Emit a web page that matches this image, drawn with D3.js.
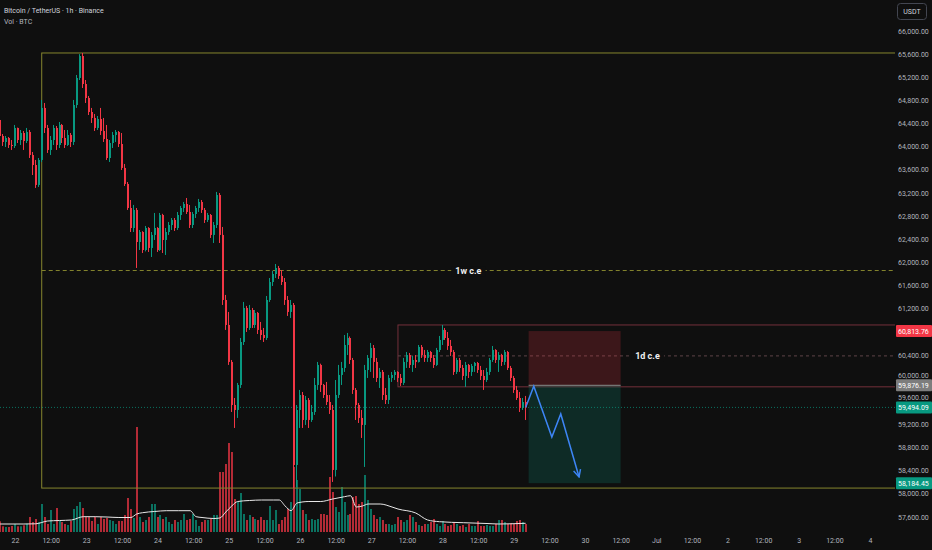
<!DOCTYPE html>
<html>
<head>
<meta charset="utf-8">
<script src="https://cdn.jsdelivr.net/npm/d3@7"></script>
<style>
  html, body { margin: 0; padding: 0; background: #0f0f0f; }
  svg { display: block; font-family: Roboto, "Noto Sans", sans-serif; }
</style>
</head>
<body>
<svg id="chart" width="932" height="550"></svg>
<script>
// BTC/USDT 1h candles, first candle 21 Jun 19:00
const firstCandle = new Date(2024, 5, 21, 19);

const opens = [
  64462, 64185, 64082, 64151, 64030, 64013, 64324, 64116, 64237, 64099,
  64255, 63857, 63684, 63339, 63771, 64670, 64324, 63944, 64116, 64324,
  64030, 64376, 64151, 64030, 64203, 64082, 64721, 65188, 65568, 65084,
  64842, 64600, 64497, 64324, 64479, 64272, 64133, 63805, 64064, 64203,
  64255, 64047, 63633, 63356, 62941, 62595, 62907, 62353, 62526, 62215,
  62595, 62250, 62475, 62595, 62215, 62820, 62388, 62526, 62647, 62734,
  62595, 62820, 62941, 63010, 62872, 62647, 62837, 62941, 63045, 62907,
  62734, 62820, 62475, 62647, 63166, 62475, 61351, 60919, 60280, 59536,
  59450, 59882, 60625, 61213, 60867, 61178, 60919, 61127, 60833, 60746,
  60694, 61351, 61662, 61800, 61904, 61766, 61662, 61351, 61144, 61265,
  58499, 59450, 59709, 59277, 59623, 59277, 59415, 59882, 60228, 59882,
  59709, 59588, 59450, 58413, 59709, 60055, 60176, 60573, 60694, 60314,
  59796, 59536, 59312, 59191, 60141, 60349, 60522, 60280, 60003, 60107,
  59709, 59623, 60003, 60055, 60107, 60003, 59917, 60280, 60400, 60228,
  60314, 60280, 60539, 60400, 60349, 60452, 60349, 60228, 60487, 60660,
  60833, 60694, 60556, 60452, 60107, 60314, 60176, 60038, 60228, 60107,
  60211, 60262, 60141, 60038, 59968, 60107, 60314, 60487, 60314, 60400,
  60280, 60452, 60176, 60003, 59796, 59657, 59485, 59588
];
const highs = [
  64514, 64220, 64185, 64168, 64116, 64376, 64330, 64289, 64272, 64324,
  64289, 63909, 63771, 63805, 64808, 64756, 64376, 64185, 64376, 64358,
  64427, 64393, 64289, 64289, 64237, 64808, 65240, 65600, 65620, 65153,
  64877, 64670, 64566, 64531, 64670, 64497, 64376, 64116, 64255, 64289,
  64272, 64237, 63702, 63390, 63079, 62994, 62941, 62561, 62540, 62630,
  62610, 62526, 62855, 62610, 62855, 62840, 62595, 62699, 62768, 62768,
  62872, 62976, 63045, 63114, 62993, 62872, 62976, 63097, 63079, 62941,
  62855, 62837, 62699, 63218, 63200, 62613, 61438, 61144, 60314, 59657,
  59917, 60694, 61317, 61248, 61265, 61213, 61178, 61144, 60971, 60867,
  61420, 61731, 61852, 61973, 61939, 61869, 61731, 61420, 61351, 61299,
  59536, 59796, 59761, 59692, 59657, 59536, 60003, 60280, 60250, 59900,
  59934, 59709, 59536, 59968, 60228, 60280, 60746, 60781, 60720, 60349,
  59830, 59571, 59450, 60228, 60400, 60608, 60573, 60349, 60176, 60141,
  59830, 60055, 60107, 60141, 60120, 60072, 60349, 60452, 60435, 60383,
  60400, 60573, 60573, 60487, 60487, 60470, 60400, 60522, 60729, 60919,
  60867, 60798, 60660, 60487, 60349, 60349, 60228, 60280, 60245, 60245,
  60280, 60280, 60211, 60141, 60176, 60349, 60556, 60500, 60452, 60420,
  60487, 60470, 60211, 60038, 59865, 59761, 59657, 59692
];
const lows = [
  64151, 64013, 63995, 63978, 63944, 63978, 64064, 64030, 63944, 64064,
  63805, 63511, 63287, 63304, 63736, 64237, 63892, 63857, 64030, 63944,
  63978, 64064, 63978, 64013, 63995, 64030, 64670, 65153, 65015, 64756,
  64548, 64410, 64272, 64289, 64203, 64082, 63771, 63736, 63978, 64082,
  63995, 63598, 63321, 62907, 62526, 62526, 61904, 62215, 62163, 62190,
  62181, 62094, 62388, 62181, 62198, 62163, 62129, 62475, 62561, 62544,
  62561, 62734, 62872, 62837, 62595, 62595, 62768, 62872, 62855, 62682,
  62699, 62423, 62336, 62595, 62336, 61265, 60833, 60228, 59415, 59139,
  59312, 59830, 60573, 60798, 60833, 60867, 60867, 60763, 60660, 60625,
  60660, 61317, 61593, 61731, 61714, 61610, 61265, 61075, 61040, 58100,
  58119, 59139, 59139, 59191, 59139, 59243, 59364, 59796, 59761, 59657,
  59536, 59381, 58206, 58300, 59657, 59882, 60107, 60400, 60245, 59727,
  59277, 59225, 58966, 58465, 60003, 60107, 60003, 59934, 59830, 59623,
  59553, 59553, 59934, 59968, 59934, 59865, 59882, 60176, 60176, 60107,
  60176, 60270, 60349, 60280, 60280, 60280, 60176, 60211, 60452, 60573,
  60660, 60487, 60383, 60055, 60072, 60107, 59968, 59848, 60003, 60038,
  60107, 60090, 59968, 59796, 59934, 60055, 60280, 60262, 60107, 60211,
  60228, 60141, 59951, 59744, 59623, 59415, 59450, 59277
];
const closes = [
  64185, 64082, 64151, 64030, 64013, 64324, 64116, 64237, 64099, 64255,
  63857, 63684, 63339, 63771, 64670, 64324, 63944, 64116, 64324, 64030,
  64376, 64151, 64030, 64203, 64082, 64721, 65188, 65568, 65084, 64842,
  64600, 64497, 64324, 64479, 64272, 64133, 63805, 64064, 64203, 64255,
  64047, 63633, 63356, 62941, 62595, 62907, 62353, 62526, 62215, 62595,
  62250, 62475, 62595, 62215, 62820, 62388, 62526, 62647, 62734, 62595,
  62820, 62941, 63010, 62872, 62647, 62837, 62941, 63045, 62907, 62734,
  62820, 62475, 62647, 63166, 62475, 61351, 60919, 60280, 59536, 59450,
  59882, 60625, 61213, 60867, 61178, 60919, 61127, 60833, 60746, 60694,
  61351, 61662, 61800, 61904, 61766, 61662, 61351, 61144, 61265, 58499,
  59450, 59709, 59277, 59623, 59277, 59415, 59882, 60228, 59882, 59709,
  59588, 59450, 58413, 59709, 60055, 60176, 60573, 60694, 60314, 59796,
  59536, 59312, 59191, 60141, 60349, 60522, 60280, 60003, 60107, 59709,
  59623, 60003, 60055, 60107, 60003, 59917, 60280, 60400, 60228, 60314,
  60280, 60539, 60400, 60349, 60452, 60349, 60228, 60487, 60660, 60833,
  60694, 60556, 60452, 60107, 60314, 60176, 60038, 60228, 60107, 60211,
  60262, 60141, 60038, 59968, 60107, 60314, 60487, 60314, 60400, 60280,
  60452, 60176, 60003, 59796, 59657, 59485, 59588, 59494.09
];
// volume in BTC
const volumes = [
  1070, 570, 500, 500, 600, 800, 570, 570, 670, 830,
  1500, 1000, 1300, 1000, 2800, 1500, 800, 2200, 800, 2400,
  1100, 1000, 800, 700, 1100, 2300, 2600, 3000, 2400, 1500,
  1500, 1100, 1500, 800, 1500, 1300, 1400, 1200, 1100, 800,
  1100, 1100, 1700, 3400, 2300, 1400, 10500, 1500, 1000, 1200,
  1500, 2800, 2800, 1500, 1700, 1300, 1500, 1000, 800, 1200,
  1000, 1200, 1800, 1200, 1300, 1800, 1200, 600, 1000, 1200,
  1200, 1300, 1700, 1700, 6000, 6000, 6800, 8900, 8000, 3300,
  3000, 3900, 1800, 1200, 1700, 1500, 1300, 1200, 1500, 1200,
  1200, 2600, 1200, 2200, 800, 1200, 1500, 2300, 3000, 6500,
  5200, 4300, 2200, 1800, 1200, 1300, 1200, 1300, 1800, 1800,
  1700, 5500, 4000, 2500, 2000, 4500, 3000, 1700, 1800, 3500,
  3600, 2800, 3000, 5700, 3200, 2300, 1700, 1300, 1500, 1200,
  800, 800, 700, 800, 1500, 1200, 1000, 1200, 1700, 1500,
  1000, 700, 600, 800, 800, 1000, 1300, 800, 600, 1100,
  800, 600, 700, 1000, 800, 600, 700, 500, 800, 600,
  600, 1100, 600, 600, 700, 600, 600, 800, 1200, 1200,
  1000, 800, 900, 800, 1100, 1200, 1000, 800
];
// volume moving average, read at these candle indexes
const volMaIndex = [0, 4, 8, 12, 16, 20, 24, 28, 32, 36, 40, 44, 46, 48, 52, 56, 60, 64, 66, 68,
  72, 74, 76, 78, 80, 84, 88, 92, 94, 96, 98, 100, 104, 108, 112, 116, 118, 120, 122, 124,
  128, 132, 134, 140, 144, 148, 156, 164, 168, 172, 177];
const volMa = [800, 800, 800, 820, 1100, 1150, 1200, 1530, 1530, 1500, 1450, 1450, 1800, 1930, 2050, 2130, 2130, 2130, 1530, 1450,
  1350, 1400, 2000, 2600, 3050, 3150, 3200, 3200, 3200, 2600, 2130, 2900, 3050, 3050, 3300, 3530, 3630, 2500, 2600, 2800,
  2800, 2500, 2300, 1900, 1200, 1030, 930, 850, 800, 820, 870];

const rangeHigh = 65620, rangeLow = 58100;       // 1w range
const dayRangeHigh = 60919, dayRangeLow = 59850; // 1d range
const dayRangeStart = new Date(2024, 5, 27, 9);
const stopPrice = 60813.76, entryPrice = 59876.19, targetPrice = 58184.45;
const lastPrice = 59494.09;
const positionStart = new Date(2024, 5, 29, 5), positionEnd = new Date(2024, 5, 30, 12);
const pathTimes = [new Date(2024, 5, 29, 4), new Date(2024, 5, 29, 6, 45), new Date(2024, 5, 29, 12, 50),
  new Date(2024, 5, 29, 15, 50), new Date(2024, 5, 29, 22, 0)];
const pathPrices = [59494, 59860, 58983, 59381, 58292];

const width = 932, height = 550, plotRight = 895, plotBottom = 534;
const bg = "#0f0f0f", up = "#089981", down = "#f23645";
const font = "Roboto, 'Noto Sans', sans-serif";

const svg = d3.select("#chart");
svg.append("rect").attr("width", width).attr("height", height).attr("fill", bg);

const x = d3.scaleTime().domain([new Date(2024, 5, 22), new Date(2024, 6, 4)]).range([15, 870]);
const y = d3.scaleLinear().domain([57600, 66000]).range([517, 31]);
const yVol = d3.scaleLinear().domain([0, 10000]).range([532, 432]);

const candles = closes.map((c, i) => ({
  t: d3.timeHour.offset(firstCandle, i), o: opens[i], h: highs[i], l: lows[i], c: c, v: volumes[i]
}));

svg.append("clipPath").attr("id", "plot")
  .append("rect").attr("x", 0).attr("y", 0).attr("width", plotRight).attr("height", plotBottom);
const plot = svg.append("g").attr("clip-path", "url(#plot)");

// volume
plot.append("g").selectAll("rect").data(candles).join("rect")
  .attr("x", d => Math.round(x(d.t)) - 1)
  .attr("width", 2)
  .attr("y", d => yVol(d.v))
  .attr("height", d => yVol(0) - yVol(d.v))
  .attr("fill", d => d.c >= d.o ? up : down)
  .attr("opacity", 0.72);

plot.append("path")
  .datum(volMaIndex.map((k, i) => [d3.timeHour.offset(firstCandle, k), volMa[i]]))
  .attr("fill", "none").attr("stroke", "#e8e8e8").attr("stroke-width", 1)
  .attr("d", d3.line().x(d => x(d[0])).y(d => yVol(d[1])).curve(d3.curveMonotoneX));

// weekly range box and its midpoint
const boxLeft = x(d3.timeHour.offset(firstCandle, 14));
plot.append("rect")
  .attr("x", boxLeft).attr("y", y(rangeHigh))
  .attr("width", plotRight + 5 - boxLeft).attr("height", y(rangeLow) - y(rangeHigh))
  .attr("fill", "none").attr("stroke", "#85852e").attr("stroke-width", 1);
const weekMid = (rangeHigh + rangeLow) / 2;
plot.append("line")
  .attr("x1", boxLeft).attr("x2", plotRight).attr("y1", y(weekMid)).attr("y2", y(weekMid))
  .attr("stroke", "#85852e").attr("stroke-dasharray", "4,3");

// daily range box
const dayLeft = x(dayRangeStart);
plot.append("rect")
  .attr("x", dayLeft).attr("y", y(dayRangeHigh))
  .attr("width", plotRight + 5 - dayLeft).attr("height", y(dayRangeLow) - y(dayRangeHigh))
  .attr("fill", "none").attr("stroke", "#73303a").attr("stroke-width", 1);
const dayMid = (dayRangeHigh + dayRangeLow) / 2;
plot.append("line")
  .attr("x1", dayLeft).attr("x2", plotRight).attr("y1", y(dayMid)).attr("y2", y(dayMid))
  .attr("stroke", "#5e4448").attr("stroke-dasharray", "3,3");

// short position
const pL = x(positionStart), pR = x(positionEnd);
plot.append("rect").attr("x", pL).attr("width", pR - pL)
  .attr("y", y(stopPrice)).attr("height", y(entryPrice) - y(stopPrice))
  .attr("fill", down).attr("fill-opacity", 0.2);
plot.append("rect").attr("x", pL).attr("width", pR - pL)
  .attr("y", y(entryPrice)).attr("height", y(targetPrice) - y(entryPrice))
  .attr("fill", up).attr("fill-opacity", 0.2);
plot.append("line").attr("x1", pL).attr("x2", pR)
  .attr("y1", y(entryPrice)).attr("y2", y(entryPrice))
  .attr("stroke", "#8a8a8a").attr("stroke-width", 1);

// last price line
plot.append("line").attr("x1", 0).attr("x2", plotRight)
  .attr("y1", y(lastPrice)).attr("y2", y(lastPrice))
  .attr("stroke", up).attr("stroke-opacity", 0.7).attr("stroke-dasharray", "1,2");

// candles
const cg = plot.append("g").selectAll("g").data(candles).join("g")
  .attr("fill", d => d.c >= d.o ? up : down)
  .attr("stroke", d => d.c >= d.o ? up : down);
cg.append("line")
  .attr("x1", d => Math.round(x(d.t)) - 0.5).attr("x2", d => Math.round(x(d.t)) - 0.5)
  .attr("y1", d => y(d.h)).attr("y2", d => y(d.l))
  .attr("stroke-width", 1);
cg.append("rect")
  .attr("stroke", "none")
  .attr("x", d => Math.round(x(d.t)) - 1).attr("width", 2)
  .attr("y", d => y(Math.max(d.o, d.c)))
  .attr("height", d => Math.max(1, Math.abs(y(d.o) - y(d.c))));

// projected path arrow
svg.append("defs").append("marker")
  .attr("id", "head").attr("viewBox", "0 0 10 10").attr("refX", 9).attr("refY", 5)
  .attr("markerWidth", 9).attr("markerHeight", 9).attr("markerUnits", "userSpaceOnUse")
  .attr("orient", "auto")
  .append("path").attr("d", "M1,1 L9,5 L1,9").attr("fill", "none")
  .attr("stroke", "#3d85f5").attr("stroke-width", 1.6);
plot.append("path")
  .datum(pathTimes.map((t, i) => [t, pathPrices[i]]))
  .attr("fill", "none").attr("stroke", "#3d85f5").attr("stroke-width", 1.5)
  .attr("stroke-linejoin", "miter")
  .attr("marker-end", "url(#head)")
  .attr("d", d3.line().x(d => x(d[0])).y(d => y(d[1])));

// range labels
function rangeLabel(text, cx, price) {
  const t = plot.append("text").attr("x", cx).attr("y", y(price) + 3.5)
    .attr("text-anchor", "middle").attr("font-size", 9).attr("font-weight", "bold")
    .attr("fill", "#f0f0f0").text(text);
  const b = t.node().getBBox();
  plot.insert("rect", () => t.node())
    .attr("x", b.x - 4).attr("y", b.y).attr("width", b.width + 8).attr("height", b.height)
    .attr("fill", bg);
}
rangeLabel("1w c.e", (boxLeft + plotRight) / 2, weekMid);
rangeLabel("1d c.e", (dayLeft + plotRight) / 2 + 1, dayMid);

// price axis
const badges = [
  { price: stopPrice, color: down },
  { price: entryPrice, color: "#7d7d7d" },
  { price: lastPrice, color: up },
  { price: targetPrice, color: up }
];
// tick labels hidden under a badge are dropped, partly covered ones nudged clear
const priceTicks = d3.range(57600, 66001, 400)
  .filter(p => badges.every(b => Math.abs(y(p) - y(b.price)) > 4));
function tickY(p) {
  let ty = y(p);
  badges.forEach(b => {
    const gap = ty - y(b.price);
    if (Math.abs(gap) < 9.5) ty = y(b.price) + Math.sign(gap) * 9.5;
  });
  return ty;
}
svg.append("g").selectAll("text").data(priceTicks).join("text")
  .attr("x", 898).attr("y", d => tickY(d) + 2.5)
  .attr("font-size", 7).attr("fill", "#b2b5be")
  .text(d => d3.format(",.2f")(d));

const bgG = svg.append("g").selectAll("g").data(badges).join("g");
bgG.append("rect")
  .attr("x", 896).attr("width", 36).attr("y", d => y(d.price) - 6).attr("height", 12)
  .attr("rx", 1).attr("fill", d => d.color);
bgG.append("text")
  .attr("x", 898).attr("y", d => y(d.price) + 2.5)
  .attr("font-size", 7).attr("fill", "#ffffff")
  .text(d => d3.format(",.2f")(d.price));

svg.append("rect").attr("x", 897.5).attr("y", 3.5).attr("width", 29).attr("height", 16).attr("rx", 3)
  .attr("fill", "none").attr("stroke", "#434651");
svg.append("text").attr("x", 912).attr("y", 14).attr("text-anchor", "middle")
  .attr("font-size", 7).attr("fill", "#d1d4dc").text("USDT");

// time axis
const timeTicks = d3.timeHour.every(12).range(new Date(2024, 5, 22), new Date(2024, 6, 4, 1));
const timeFormat = d => d.getHours() === 12 ? "12:00"
  : (d.getDate() === 1 ? d3.timeFormat("%b")(d) : String(d.getDate()));
const xAxis = svg.append("g").attr("transform", `translate(0,${plotBottom})`)
  .call(d3.axisBottom(x).tickValues(timeTicks).tickFormat(timeFormat).tickSize(0).tickPadding(4));
xAxis.select(".domain").remove();
xAxis.selectAll("text").attr("fill", "#b2b5be").attr("font-size", 7)
  .attr("font-family", font);

// legend
svg.append("text").attr("x", 4).attr("y", 13).attr("font-size", 7).attr("fill", "#d1d4dc")
  .text("Bitcoin / TetherUS · 1h · Binance");
svg.append("text").attr("x", 4).attr("y", 24).attr("font-size", 7).attr("fill", "#b2b5be")
  .text("Vol · BTC");
</script>
</body>
</html>
